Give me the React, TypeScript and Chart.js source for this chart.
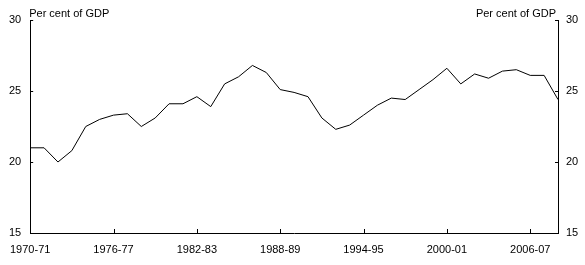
import React, { useEffect, useRef } from "react";
import { Chart, registerables } from "chart.js";

Chart.register(...registerables);

const years: string[] = [
  "1970-71","1971-72","1972-73","1973-74","1974-75","1975-76","1976-77","1977-78","1978-79","1979-80",
  "1980-81","1981-82","1982-83","1983-84","1984-85","1985-86","1986-87","1987-88","1988-89","1989-90",
  "1990-91","1991-92","1992-93","1993-94","1994-95","1995-96","1996-97","1997-98","1998-99","1999-00",
  "2000-01","2001-02","2002-03","2003-04","2004-05","2005-06","2006-07","2007-08","2008-09",
];
const values: number[] = [
  21.0, 21.0, 20.0, 20.8, 22.5, 23.0, 23.3, 23.4, 22.5, 23.1,
  24.1, 24.1, 24.6, 23.9, 25.5, 26.0, 26.8, 26.3, 25.1, 24.9,
  24.6, 23.1, 22.3, 22.6, 23.3, 24.0, 24.5, 24.4, 25.1, 25.8,
  26.6, 25.5, 26.2, 25.9, 26.4, 26.5, 26.1, 26.1, 24.4,
];
const yTicks: number[] = [15, 20, 25, 30];
const xLabelEvery = 6;
const unitLabel = "Per cent of GDP";

const FONT = "'Liberation Sans', Arial, sans-serif";

const overlay = {
  id: "overlay",
  afterDraw(chart: any) {
    const { ctx, chartArea, scales } = chart;
    const x = scales.x;
    const y = scales.y;
    ctx.save();
    ctx.strokeStyle = "#000";
    ctx.lineWidth = 1;
    ctx.beginPath();
    // x tick marks (inward)
    years.forEach((_, i) => {
      if (i % xLabelEvery === 0 && i !== 0) {
        const px = Math.round(x.getPixelForValue(i)) + 0.5;
        ctx.moveTo(px, chartArea.bottom);
        ctx.lineTo(px, chartArea.bottom - 4);
      }
    });
    // y tick marks (inward on both sides)
    yTicks.forEach((v) => {
      const py = Math.round(y.getPixelForValue(v)) + 0.5;
      ctx.moveTo(chartArea.left, py);
      ctx.lineTo(chartArea.left + 3, py);
      ctx.moveTo(chartArea.right, py);
      ctx.lineTo(chartArea.right - 3, py);
    });
    ctx.stroke();
    ctx.fillStyle = "#000";
    ctx.font = "11px " + FONT;
    ctx.textBaseline = "alphabetic";
    ctx.textAlign = "left";
    ctx.fillText(unitLabel, chartArea.left - 1, chartArea.top - 3);
    ctx.textAlign = "right";
    ctx.fillText(unitLabel, chartArea.right - 2, chartArea.top - 3);
    ctx.restore();
  },
};

export default function App() {
  const ref = useRef<HTMLCanvasElement | null>(null);
  useEffect(() => {
    if (!ref.current) return;
    const tickFont = { family: FONT, size: 11 };
    const chart = new Chart(ref.current, {
      type: "line",
      data: {
        labels: years,
        datasets: [
          {
            data: values,
            borderColor: "#000",
            borderWidth: 1,
            pointRadius: 0,
            tension: 0,
            fill: false,
          },
        ],
      },
      options: {
        animation: false,
        responsive: false,
        maintainAspectRatio: false,
        events: [],
        layout: { padding: { top: 20, left: 0, right: 0, bottom: 0 } },
        plugins: { legend: { display: false }, tooltip: { enabled: false } },
        scales: {
          x: {
            type: "category",
            offset: false,
            grid: { display: false, drawTicks: false },
            border: { display: true, color: "#000", width: 1 },
            ticks: {
              autoSkip: false,
              maxRotation: 0,
              minRotation: 0,
              padding: 10,
              color: "#000",
              font: tickFont,
              callback: (_v: any, i: number) => (i % xLabelEvery === 0 ? years[i] : ""),
            },
            afterFit: (s: any) => { s.height = 32; },
          },
          y: {
            position: "left",
            min: 15,
            max: 30,
            grid: { display: false, drawTicks: false },
            border: { display: true, color: "#000", width: 1 },
            ticks: { stepSize: 5, padding: 9, color: "#000", font: tickFont },
            afterFit: (s: any) => { s.width = 30; },
          },
          y2: {
            position: "right",
            min: 15,
            max: 30,
            grid: { display: false, drawTicks: false },
            border: { display: true, color: "#000", width: 1 },
            ticks: { stepSize: 5, padding: 8, color: "#000", font: tickFont },
            afterFit: (s: any) => { s.width = 27; },
          },
        },
      },
      plugins: [overlay],
    });
    return () => chart.destroy();
  }, []);
  return (
    <div style={{ position: "fixed", left: 0, top: 0, width: 585, height: 265, background: "#fff" }}>
      <canvas ref={ref} width={585} height={265} style={{ width: 585, height: 265, display: "block" }} />
    </div>
  );
}
